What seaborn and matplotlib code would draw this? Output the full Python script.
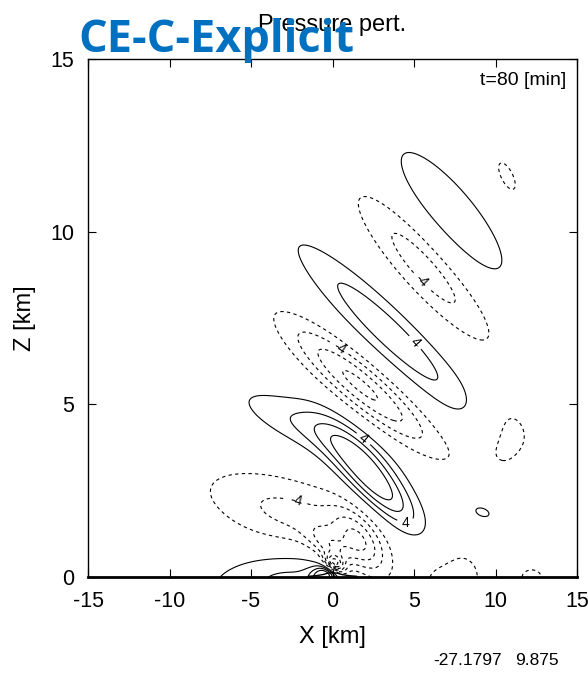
import numpy as np
import pandas as pd
import seaborn as sns
import matplotlib
matplotlib.use("Agg")
import matplotlib.pyplot as plt

# pressure perturbation lobes
# centre x [km], centre z [km], amplitude, sigma along / across (x-km units), tilt [deg]
lobe_x = [7.3, 10.7, 5.6, 3.4, 1.7, 2.4, -1.6, -2.3, 0.15, 1.8, -2.5, -0.4, 7.4, 12.3, 10.6, 9.2, 0.0]
lobe_z = [10.6, 11.6, 8.95, 7.1, 5.55, 2.85, 4.35, 1.8, 0.35, 0.9, 0.0, 0.1, 0.0, 0.0, 3.97, 1.88, 0.8]
lobe_amp = [3.6, -2.3, -5.0, 5.5, -8.5, 10.0, 3.8, -4.6, -14.0, -7.0, 4.5, 8.0, -2.7, -2.2, -3.2, 2.6, -6.0]
lobe_len = [4.2, 1.74, 4.3, 5.3, 4.0, 2.9, 3.4, 4.2, 0.5, 1.6, 3.7, 0.7, 1.9, 1.0, 1.9, 1.0, 1.2]
lobe_wid = [1.2, 0.7, 1.0, 0.95, 0.9, 0.88, 0.95, 1.55, 0.35, 0.8, 1.3, 0.4, 1.9, 0.8, 1.5, 0.6, 0.6]
lobe_ang = [-50, -64, -48, -44, -40, -48, -25, -18, -40, -55, 8, 20, 0, 0, -75, -20, -40]

terrain_x = [-1.5, -1.0, -0.6, -0.3, 0.0, 0.3, 0.6, 1.0, 1.5]
terrain_h = [0.02, 0.04, 0.07, 0.11, 0.13, 0.11, 0.07, 0.04, 0.02]

pos_levels = [2, 6, 8]
neg_levels = [-28, -26, -24, -22, -20, -18, -16, -14, -12, -10, -8, -6, -2]
label_pos = [(1.9, 4.0), (4.5, 1.6), (5.8, 7.1)]
label_neg = [(5.5, 8.6), (0.5, 6.7), (-2.0, 2.6)]

x = np.linspace(-15, 15, 401)
z = np.linspace(0, 15, 401)
X, Z = np.meshgrid(x, z)
ry = 2.118  # z stretch so that tilts match the drawn picture

P = np.zeros_like(X)
for x0, z0, a, L, W, ang in zip(lobe_x, lobe_z, lobe_amp, lobe_len, lobe_wid, lobe_ang):
    t = np.deg2rad(ang)
    dx = X - x0
    dy = (Z - z0) * ry
    u = dx * np.cos(t) + dy * np.sin(t)
    v = -dx * np.sin(t) + dy * np.cos(t)
    P += a * np.exp(-0.5 * (u**2 / L**2 + v**2 / W**2))

sns.set_style("ticks")
plt.rcParams['font.family'] = ['Liberation Sans', 'DejaVu Sans']
plt.rcParams['axes.unicode_minus'] = False
plt.rcParams['text.color'] = 'black'

fig = plt.figure(figsize=(5.88, 6.73), dpi=100)
ax = fig.add_axes([0.1497, 0.1426, 0.8316, 0.7697])

dash = (0, (3, 3))
ax.contour(X, Z, P, levels=pos_levels, colors='black', linewidths=0.8, linestyles='solid')
cs_n = ax.contour(X, Z, P, levels=neg_levels, colors='black', linewidths=0.8)
cs_n.set_linestyle(dash)
cs4 = ax.contour(X, Z, P, levels=[4], colors='black', linewidths=0.8, linestyles='solid')
cs4n = ax.contour(X, Z, P, levels=[-4], colors='black', linewidths=0.8)
cs4n.set_linestyle(dash)
ax.clabel(cs4, fmt='%d', fontsize=10, inline=True, manual=label_pos)
ax.clabel(cs4n, fmt='%d', fontsize=10, inline=True, manual=label_neg)

terrain = pd.DataFrame({'x': terrain_x, 'h': terrain_h})
sns.lineplot(data=terrain, x='x', y='h', ax=ax, color='black', linewidth=1.0)

ax.set_xlim(-15, 15)
ax.set_ylim(0, 15)
ax.set_xticks([-15, -10, -5, 0, 5, 10, 15])
ax.set_yticks([0, 5, 10, 15])
ax.tick_params(direction='in', top=True, right=True, length=6, width=0.8,
               labelsize=15.5, pad=10, colors='black')
for s in ax.spines.values():
    s.set_linewidth(1.0)
    s.set_color('black')
ax.spines['bottom'].set_linewidth(2.0)

ax.set_xlabel('X [km]', fontsize=17, labelpad=10, color='black')
ax.set_ylabel('Z [km]', fontsize=17, labelpad=10, color='black')
ax.set_title('Pressure pert.', fontsize=17, pad=20, color='black')

ax.text(0.977, 0.975, 't=80 [min]', transform=ax.transAxes, ha='right', va='top', fontsize=14)
fig.text(0.737, 0.008, '-27.1797', fontsize=12.5, ha='left', va='bottom')
fig.text(0.876, 0.008, '9.875', fontsize=12.5, ha='left', va='bottom')
fig.text(0.133, 0.9227, 'CE-C-Explicit', fontsize=32.5, fontweight='bold', color='#0070C0',
         family=['Open Sans', 'DejaVu Sans'], ha='left', va='baseline', zorder=10)

fig.savefig('out.png', dpi=100)
